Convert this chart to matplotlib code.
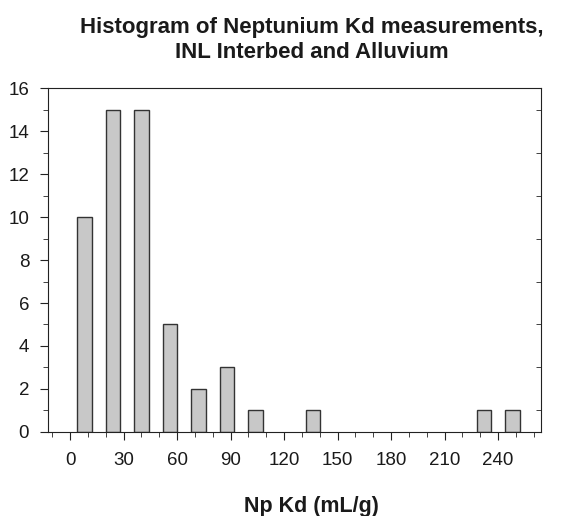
import numpy as np
import matplotlib
matplotlib.use('Agg')
import matplotlib.pyplot as plt
from matplotlib.ticker import MultipleLocator

plt.rcParams['font.family'] = ['Liberation Sans', 'DejaVu Sans']

# bin centres (mL/g) and counts, bins 16 wide
bin_centers = [8, 24, 40, 56, 72, 88, 104, 120, 136, 152, 168, 184, 200, 216, 232, 248]
counts = [10, 15, 15, 5, 2, 3, 1, 0, 1, 0, 0, 0, 0, 0, 1, 1]
xticks = [0, 30, 60, 90, 120, 150, 180, 210, 240]
yticks = [0, 2, 4, 6, 8, 10, 12, 14, 16]

fig = plt.figure(figsize=(5.7, 5.16), dpi=100)
ax = fig.add_axes([0.084, 0.163, 0.865, 0.666])

centers = np.array(bin_centers)
cnt = np.array(counts)
keep = cnt > 0
ax.bar(centers[keep], cnt[keep], width=8, color='#c8c8c8', edgecolor='#333333', linewidth=1)

ax.set_xlim(-12.5, 264)
ax.set_ylim(0, 16)
ax.set_xticks(xticks)
ax.set_yticks(yticks)
ax.xaxis.set_minor_locator(MultipleLocator(10))
ax.yaxis.set_minor_locator(MultipleLocator(1))
ax.tick_params(axis='both', which='both', direction='out', labelsize=13.5,
               color='#222222', labelcolor='#1a1a1a')
ax.tick_params(which='major', length=5.5)
ax.tick_params(which='minor', length=3.5)
ax.tick_params(axis='x', pad=9)
ax.tick_params(axis='y', pad=8)
for sp in ax.spines.values():
    sp.set_color('#222222')

# right side: minor ticks pointing inward only
sec = ax.secondary_yaxis('right')
sec.set_yticks([])
sec.yaxis.set_minor_locator(MultipleLocator(2, offset=1))
sec.tick_params(which='minor', direction='in', length=3.5, color='#222222')
sec.spines['right'].set_visible(False)

fig.text(0.547, 0.946, 'Histogram of Neptunium Kd measurements,',
         ha='center', va='center', fontsize=16, fontweight='bold', color='#1a1a1a')
fig.text(0.547, 0.899, 'INL Interbed and Alluvium',
         ha='center', va='center', fontsize=16, fontweight='bold', color='#1a1a1a')
fig.text(0.547, 0.019, 'Np Kd (mL/g)', ha='center', va='center', fontsize=15.5,
         fontweight='bold', color='#1a1a1a')

fig.savefig('out.png', dpi=100)
